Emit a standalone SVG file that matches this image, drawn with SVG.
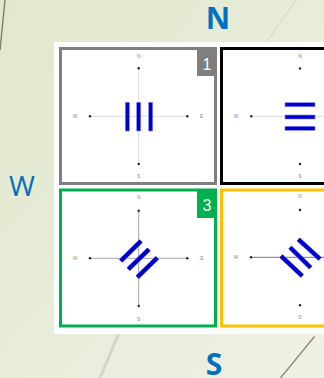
<svg xmlns="http://www.w3.org/2000/svg" width="324" height="378" viewBox="0 0 324 378">
<defs>
<linearGradient id="bg" x1="0" y1="0" x2="1" y2="1">
<stop offset="0" stop-color="#e1e8cc"/>
<stop offset="1" stop-color="#eff1e5"/>
</linearGradient>
<style>
.big{font-family:"Open Sans","Liberation Sans",sans-serif;fill:#0070c0;text-anchor:middle}
.lbl{font-family:"Liberation Sans",sans-serif;font-size:5px;fill:#8a8a8a;text-anchor:middle;dominant-baseline:central}
.dot{fill:#222}
.bar{fill:#0000c8;stroke:#8080ff;stroke-width:0.6}
.dbar{stroke:#0000c8;stroke-width:4}
.halo{stroke:#8f8fff;stroke-width:5}
.badge{font-family:"Liberation Sans",sans-serif;font-size:16px;fill:#fff;text-anchor:middle}
.frame{fill:#fff;stroke-width:3}
</style>
</defs>
<rect width="324" height="378" fill="url(#bg)"/>
<g id="decor">
<line x1="5" y1="0" x2="0" y2="50" stroke="#7d7763" stroke-width="1.3"/>
<line x1="296" y1="0" x2="266.5" y2="42" stroke="#d3d6c0" stroke-width="1"/>
<line x1="118.5" y1="334" x2="100" y2="378" stroke="#d3d6c2" stroke-width="3"/>
<line x1="314.5" y1="336.5" x2="280.5" y2="378" stroke="#8a806a" stroke-width="1.2"/>
</g>
<g id="compass-labels">
<text class="big" x="218" y="29" font-size="30" font-weight="bold">N</text>
<text class="big" x="22" y="196" font-size="28">W</text>
<text class="big" x="214" y="374.5" font-size="30" font-weight="bold">S</text>
</g>
<rect id="sheet" x="54" y="42" width="280" height="292" fill="#fff"/>
<g id="panel1">
<rect class="frame" x="60.5" y="48.5" width="155" height="135" stroke="#7f7f7f"/>
<rect x="197" y="48" width="20" height="28" fill="#7f7f7f"/>
<text class="badge" x="207" y="70">1</text>
<line x1="90" y1="116.3" x2="187.3" y2="116.3" stroke="#dcdcdc" stroke-width="1"/>
<line x1="138.7" y1="68.3" x2="138.7" y2="164" stroke="#dcdcdc" stroke-width="1"/>
<circle class="dot" cx="90" cy="116.3" r="1.2"/><circle class="dot" cx="187.3" cy="116.3" r="1.2"/>
<circle class="dot" cx="138.7" cy="68.3" r="1.2"/><circle class="dot" cx="138.7" cy="164" r="1.2"/>
<text class="lbl" x="138.7" y="55.5">N</text><text class="lbl" x="138.7" y="175.7">S</text>
<text class="lbl" x="75" y="116.3">W</text><text class="lbl" x="201.7" y="116.3">E</text>
<rect class="bar" x="125.3" y="102.3" width="4" height="28.7"/>
<rect class="bar" x="136.7" y="102.3" width="4" height="28.7"/>
<rect class="bar" x="148.7" y="102.3" width="4" height="28.7"/>
</g>
<g id="panel2">
<rect class="frame" x="221.5" y="48.5" width="160" height="135" stroke="#000"/>
<line x1="251.3" y1="116.3" x2="324" y2="116.3" stroke="#dcdcdc" stroke-width="1"/>
<circle class="dot" cx="251.3" cy="116.3" r="1.2"/>
<circle class="dot" cx="300" cy="68.5" r="1.2"/><circle class="dot" cx="300" cy="164" r="1.2"/>
<text class="lbl" x="300" y="55.5">N</text><text class="lbl" x="300" y="175.5">S</text>
<text class="lbl" x="236" y="116.3">W</text>
<rect class="bar" x="285" y="102.7" width="30" height="4"/>
<rect class="bar" x="285" y="115" width="30" height="4"/>
<rect class="bar" x="285" y="126.3" width="30" height="4"/>
</g>
<g id="panel3">
<rect class="frame" x="60.5" y="190" width="155" height="136" stroke="#00b050"/>
<rect x="197" y="189" width="20" height="29" fill="#00b050"/>
<text class="badge" x="207" y="211">3</text>
<line x1="90" y1="258.3" x2="187.3" y2="258.3" stroke="#a6a6a6" stroke-width="1"/>
<line x1="138.7" y1="210.7" x2="138.7" y2="306" stroke="#a6a6a6" stroke-width="1"/>
<circle class="dot" cx="90" cy="258.3" r="1.2"/><circle class="dot" cx="187.3" cy="258.3" r="1.2"/>
<circle class="dot" cx="138.7" cy="210.7" r="1.2"/><circle class="dot" cx="138.7" cy="306" r="1.2"/>
<text class="lbl" x="138.7" y="196.7">N</text><text class="lbl" x="138.7" y="318.7">S</text>
<text class="lbl" x="75" y="258.3">W</text><text class="lbl" x="202" y="258.3">E</text>
<g class="halo"><line x1="120.7" y1="261" x2="141" y2="241"/><line x1="128.3" y1="269.3" x2="149" y2="249.3"/><line x1="137.3" y1="277.3" x2="157.3" y2="257.7"/></g>
<g class="dbar"><line x1="120.7" y1="261" x2="141" y2="241"/><line x1="128.3" y1="269.3" x2="149" y2="249.3"/><line x1="137.3" y1="277.3" x2="157.3" y2="257.7"/></g>
</g>
<g id="panel4">
<rect class="frame" x="221.5" y="190" width="160" height="136" stroke="#ffc000"/>
<line x1="251" y1="257.3" x2="324" y2="257.3" stroke="#7a7a7a" stroke-width="1"/>
<circle class="dot" cx="251" cy="257.3" r="1.2"/>
<circle class="dot" cx="300" cy="210" r="1.2"/><circle class="dot" cx="300" cy="305.3" r="1.2"/>
<text class="lbl" x="300" y="196">N</text><text class="lbl" x="300" y="317.3">S</text>
<text class="lbl" x="236" y="257.3">W</text>
<g class="halo"><line x1="298.3" y1="239.3" x2="320" y2="259"/><line x1="290" y1="247.3" x2="310.7" y2="267.7"/><line x1="281" y1="256" x2="302.3" y2="276"/></g>
<g class="dbar"><line x1="298.3" y1="239.3" x2="320" y2="259"/><line x1="290" y1="247.3" x2="310.7" y2="267.7"/><line x1="281" y1="256" x2="302.3" y2="276"/></g>
</g>
</svg>
